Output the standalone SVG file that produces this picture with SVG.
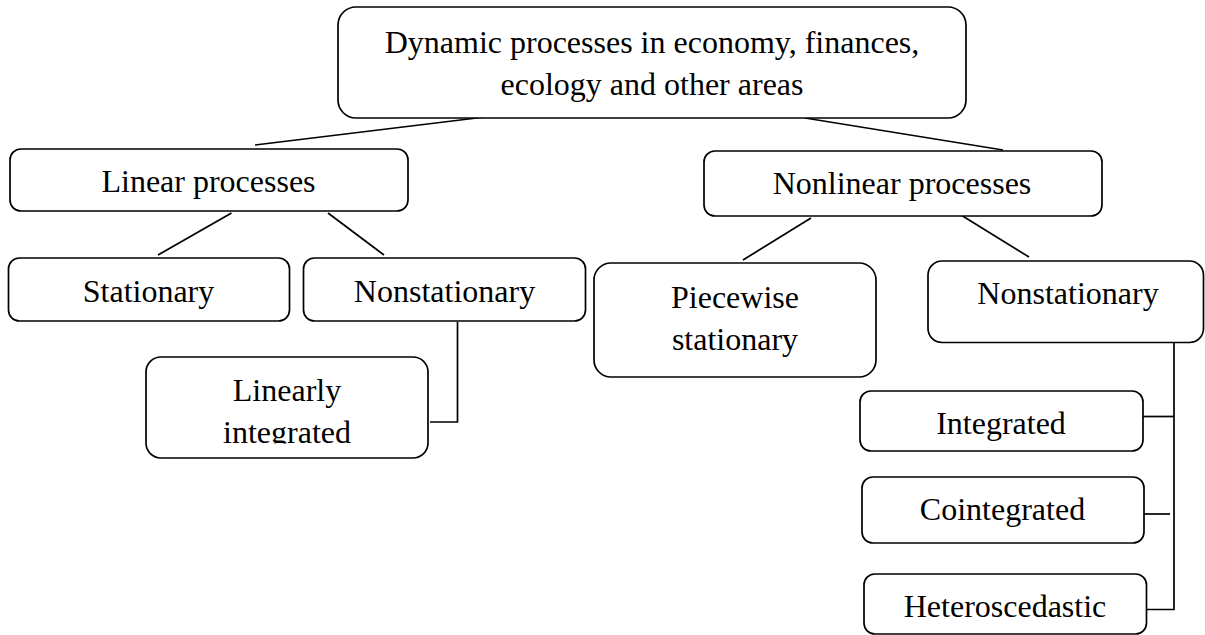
<svg xmlns="http://www.w3.org/2000/svg" width="1205" height="635" viewBox="0 0 1205 635">
<style>
.box{fill:#fff;stroke:#000;stroke-width:1.7}
.t{font-family:"Liberation Serif","Times New Roman",serif;font-size:32px;fill:#000;text-anchor:middle}
.c{stroke:#000;stroke-width:1.7;fill:none}
</style>
<defs>
<clipPath id="clipLI"><rect x="140" y="350" width="300" height="93.5"/></clipPath>
</defs>
<rect width="1205" height="635" fill="#fff"/>
<g id="connectors">
<line class="c" x1="485" y1="117" x2="255" y2="145"/>
<line class="c" x1="805" y1="118" x2="1003" y2="150"/>
<line class="c" x1="231.5" y1="213" x2="158" y2="255"/>
<line class="c" x1="328" y1="213" x2="384" y2="255"/>
<polyline class="c" points="457.5,322 457.5,422 430,422"/>
<line class="c" x1="811" y1="218" x2="743" y2="260"/>
<line class="c" x1="961" y1="215" x2="1029" y2="257"/>
<polyline class="c" points="1174,342 1174,609.5 1147,609.5"/>
<line class="c" x1="1143" y1="416.5" x2="1174" y2="416.5"/>
<line class="c" x1="1144" y1="514" x2="1170" y2="514"/>
</g>
<g id="root">
<rect class="box" x="338" y="7" width="628" height="111" rx="18"/>
<text class="t" x="652" y="53">Dynamic processes in economy, finances,</text>
<text class="t" x="652" y="95">ecology and other areas</text>
</g>
<g id="linear">
<rect class="box" x="10" y="149" width="398" height="62" rx="11"/>
<text class="t" x="208.5" y="192">Linear processes</text>
</g>
<g id="nonlinear">
<rect class="box" x="704" y="151" width="398" height="65" rx="11"/>
<text class="t" x="902" y="193.5">Nonlinear processes</text>
</g>
<g id="stationary">
<rect class="box" x="8.5" y="258" width="281" height="63" rx="11"/>
<text class="t" x="148.5" y="302">Stationary</text>
</g>
<g id="nonstationary-linear">
<rect class="box" x="303.5" y="258" width="282" height="63" rx="11"/>
<text class="t" x="444.5" y="302">Nonstationary</text>
</g>
<g id="linearly-integrated">
<rect class="box" x="146" y="357" width="282" height="101" rx="15"/>
<text class="t" x="287" y="401">Linearly</text>
<text class="t" x="287" y="443" clip-path="url(#clipLI)">integrated</text>
</g>
<g id="piecewise">
<rect class="box" x="594" y="263" width="282" height="114" rx="17"/>
<text class="t" x="735" y="307.5">Piecewise</text>
<text class="t" x="735" y="350">stationary</text>
</g>
<g id="nonstationary-nonlinear">
<rect class="box" x="928" y="261" width="275.5" height="81.5" rx="14"/>
<text class="t" x="1068" y="303.5">Nonstationary</text>
</g>
<g id="integrated">
<rect class="box" x="860" y="391" width="283" height="60" rx="11"/>
<text class="t" x="1001" y="433.5">Integrated</text>
</g>
<g id="cointegrated">
<rect class="box" x="862" y="477" width="282" height="66" rx="11"/>
<text class="t" x="1002.5" y="519.5">Cointegrated</text>
</g>
<g id="heteroscedastic">
<rect class="box" x="864" y="574" width="282.5" height="60" rx="11"/>
<text class="t" x="1005" y="617">Heteroscedastic</text>
</g>
</svg>
